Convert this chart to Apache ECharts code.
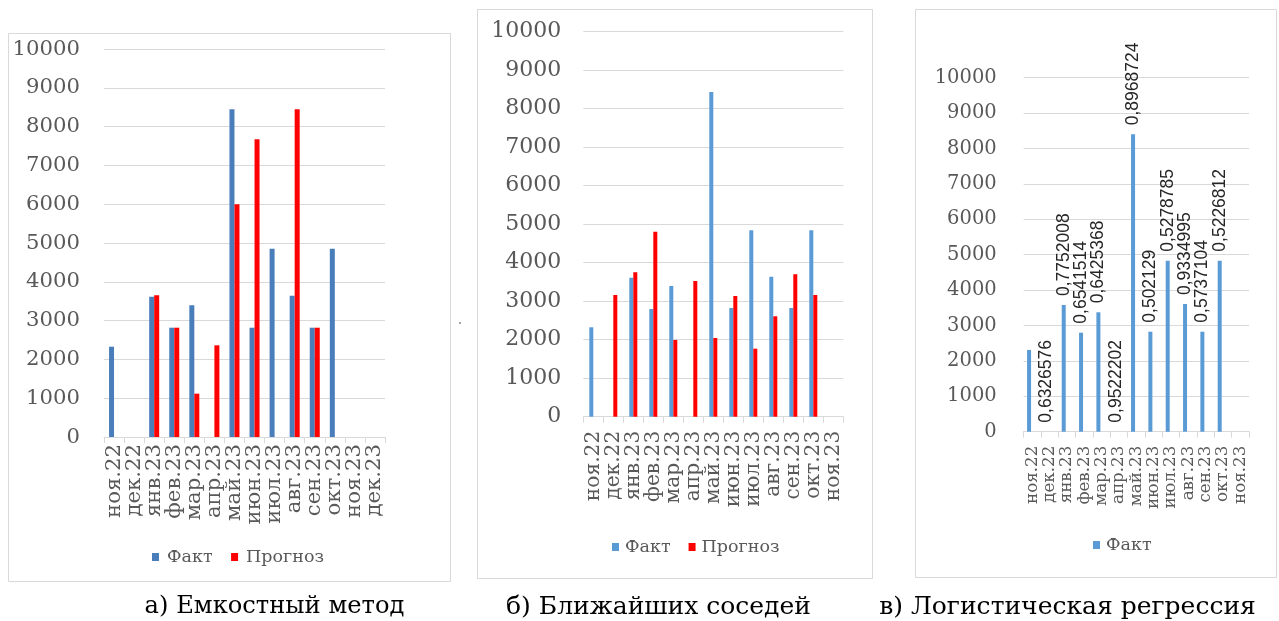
<!DOCTYPE html>
<html>
<head>
<meta charset="utf-8">
<script src="https://cdn.jsdelivr.net/npm/echarts@6/dist/echarts.min.js"></script>
<style>
html,body{margin:0;padding:0;background:#fff;}
#chart{width:1279px;height:621px;}
</style>
</head>
<body>
<div id="chart"></div>
<script>
// ---- data ----
var categoriesA = ['ноя.22','дек.22','янв.23','фев.23','мар.23','апр.23','май.23','июн.23','июл.23','авг.23','сен.23','окт.23','ноя.23','дек.23'];
var categoriesBC = ['ноя.22','дек.22','янв.23','фев.23','мар.23','апр.23','май.23','июн.23','июл.23','авг.23','сен.23','окт.23','ноя.23'];

var factA     = [2327, null, 3616, 2817, 3394, null, 8446, 2817, 4853, 3642, 2817, 4853, null, null];
var forecastA = [null, null, 3651, 2817, 1117, 2363, 5997, 7672, null, 8446, 2817, null, null, null];

var factB     = [2320, null, 3607, 2795, 3391, null, 8425, 2820, 4836, 3633, 2820, 4836, null];
var forecastB = [null, 3158, 3747, 4800, 1990, 3521, 2042, 3132, 1765, 2605, 3695, 3158, null];

var factC     = [2308, 0, 3579, 2797, 3373, 0, 8401, 2825, 4831, 3607, 2825, 4831, null];
var labelsC   = ['', '0,6326576', '0,7752008', '0,6541514', '0,6425368', '0,9522202', '0,8968724', '0,502129', '0,5278785', '0,9334995', '0,5737104', '0,5226812', ''];

var captions = ['а) Емкостный метод', 'б) Ближайших соседей', 'в) Логистическая регрессия'];
var yTicks = [0, 10000, 1000]; // min, max, interval

// ---- styles ----
var SERIF = 'DejaVu Serif';
var SANS = 'Liberation Sans';
var GRAY = '#595959';
var GRID = '#d9d9d9';
var BLUE_A = '#4a7ebb';
var BLUE = '#5b9bd5';
var RED = '#ff0000';

function yAxis(idx, fs, margin) {
  return {
    type: 'value', gridIndex: idx, min: yTicks[0], max: yTicks[1], interval: yTicks[2],
    axisLine: {show: false}, axisTick: {show: false},
    axisLabel: {fontFamily: SERIF, fontSize: fs, color: GRAY, margin: margin, formatter: function (v) { return String(v); }},
    splitLine: {lineStyle: {color: GRID, width: 1}}
  };
}
function xAxis(idx, cats, fs, margin) {
  return {
    type: 'category', gridIndex: idx, data: cats,
    axisLine: {lineStyle: {color: GRID, width: 1}},
    axisTick: {show: true, interval: 0, length: 6, lineStyle: {color: GRID}},
    axisLabel: {interval: 0, rotate: 90, fontFamily: SERIF, fontSize: fs, color: GRAY, margin: margin}
  };
}
function legendCfg(names, left, top, pad, gap) {
  return {
    data: names, left: left, top: top, icon: 'rect', itemWidth: 7, itemHeight: 8, itemGap: gap,
    formatter: function (n) { return n.split('_')[0]; },
    textStyle: {fontFamily: SERIF, fontSize: 17.5, color: GRAY, padding: [0, 0, 0, pad]}
  };
}

var option = {
  backgroundColor: '#fff',
  animation: false,
  grid: [
    {left: 104, top: 49, width: 281, height: 388},
    {left: 583.3, top: 31.3, width: 260, height: 385.4},
    {left: 1023.7, top: 77.7, width: 225.3, height: 354}
  ],
  xAxis: [xAxis(0, categoriesA, 21.2, 7), xAxis(1, categoriesBC, 20.2, 14), xAxis(2, categoriesBC, 16.7, 14)],
  yAxis: [yAxis(0, 21.2, 24), yAxis(1, 22, 22), yAxis(2, 19.5, 27)],
  legend: [
    legendCfg(['Факт_a', 'Прогноз_a'], 147, 543, 3, 18.5),
    legendCfg(['Факт_b', 'Прогноз_b'], 607, 533, 1, 18),
    legendCfg(['Факт_c'], 1088, 531, 1, 18)
  ],
  series: [
    {name: 'Факт_a', type: 'bar', xAxisIndex: 0, yAxisIndex: 0, data: factA, barWidth: 5, barGap: '0%', itemStyle: {color: BLUE_A}},
    {name: 'Прогноз_a', type: 'bar', xAxisIndex: 0, yAxisIndex: 0, data: forecastA, barWidth: 5, barGap: '0%', itemStyle: {color: RED}},
    {name: 'Факт_b', type: 'bar', xAxisIndex: 1, yAxisIndex: 1, data: factB, barWidth: 4, barGap: '0%', itemStyle: {color: BLUE}},
    {name: 'Прогноз_b', type: 'bar', xAxisIndex: 1, yAxisIndex: 1, data: forecastB, barWidth: 4, barGap: '0%', itemStyle: {color: RED}},
    {name: 'Факт_c', type: 'bar', xAxisIndex: 2, yAxisIndex: 2, data: factC, barWidth: 4, barGap: '65%', itemStyle: {color: BLUE},
      label: {show: true, position: 'top', rotate: 90, align: 'left', verticalAlign: 'middle', distance: 9,
        fontFamily: SANS, fontSize: 17.5, color: '#262626',
        formatter: function (p) { return labelsC[p.dataIndex]; }}},
    {name: 'hidden_c', type: 'bar', xAxisIndex: 2, yAxisIndex: 2, data: [], barWidth: 4, barGap: '65%', itemStyle: {color: 'rgba(0,0,0,0)'}}
  ],
  graphic: [
    {type: 'rect', shape: {x: 8.5, y: 33.5, width: 442, height: 548}, style: {fill: null, stroke: GRID, lineWidth: 1}, silent: true},
    {type: 'rect', shape: {x: 477.5, y: 9.5, width: 395, height: 569}, style: {fill: null, stroke: GRID, lineWidth: 1}, silent: true},
    {type: 'rect', shape: {x: 915.5, y: 9.5, width: 361, height: 568}, style: {fill: null, stroke: GRID, lineWidth: 1}, silent: true},
    {type: 'circle', shape: {cx: 460, cy: 323, r: 0.8}, style: {fill: '#333'}, silent: true},
    {type: 'text', x: 274.5, y: 607, style: {text: captions[0], fontFamily: SERIF, fontSize: 24.2, fill: '#000', align: 'center', verticalAlign: 'middle'}},
    {type: 'text', x: 658.5, y: 607, style: {text: captions[1], fontFamily: SERIF, fontSize: 25, fill: '#000', align: 'center', verticalAlign: 'middle'}},
    {type: 'text', x: 1067.5, y: 607, style: {text: captions[2], fontFamily: SERIF, fontSize: 25, fill: '#000', align: 'center', verticalAlign: 'middle'}}
  ]
};

var chart = echarts.init(document.getElementById('chart'));
chart.setOption(option);
</script>
</body>
</html>
